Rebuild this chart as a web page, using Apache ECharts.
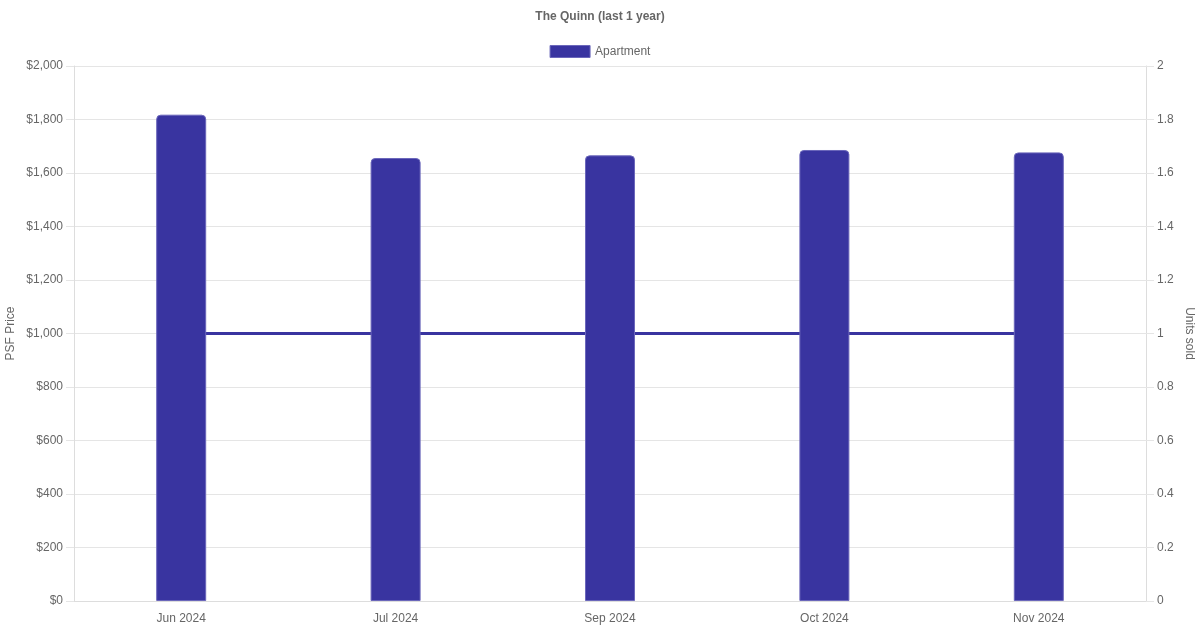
<!DOCTYPE html>
<html><head><meta charset="utf-8">
<script src="https://cdn.jsdelivr.net/npm/echarts@6/dist/echarts.min.js"></script>
<style>html,body{margin:0;padding:0;background:#fff}#c{width:1200px;height:630px}</style>
</head><body><div id="c"></div>
<script>
const categories = ['Jun 2024', 'Jul 2024', 'Sep 2024', 'Oct 2024', 'Nov 2024'];
const psfPrice = [1818, 1656, 1666, 1686, 1677];
const unitsSold = [1, 1, 1, 1, 1];
const leftTicks = { min: 0, max: 2000, interval: 200 };
const rightTicks = { min: 0, max: 2, interval: 0.2 };

const color = '#3934a0';
const font = '"Liberation Sans", Arial, sans-serif';
const chart = echarts.init(document.getElementById('c'));
chart.setOption({
  animation: false,
  textStyle: { fontFamily: font },
  title: { text: 'The Quinn (last 1 year)', left: 'center', top: 6,
    textStyle: { fontSize: 12, fontWeight: 'bold', color: '#666', fontFamily: font } },
  legend: { data: [{ name: 'Apartment', icon: 'rect' }], top: 40, left: 'center', itemWidth: 40, itemHeight: 12, itemGap: 10,
    itemStyle: { borderColor: '#6b67bb', borderWidth: 1 },
    textStyle: { color: '#666', fontSize: 12, fontFamily: font } },
  grid: { left: 74, right: 54, top: 66, bottom: 29, containLabel: false, outerBoundsMode: 'none' },
  xAxis: {
    type: 'category', data: categories,
    axisLine: { lineStyle: { color: '#ddd' } },
    axisTick: { show: false },
    axisLabel: { color: '#666', fontSize: 12, margin: 12 },
    splitLine: { show: false }
  },
  yAxis: [
    { type: 'value', min: leftTicks.min, max: leftTicks.max, interval: leftTicks.interval,
      name: 'PSF Price', nameLocation: 'middle', nameGap: 57, nameMoveOverlap: false,
      nameTextStyle: { color: '#666', fontSize: 12 },
      axisLine: { show: true, lineStyle: { color: '#ddd' } },
      axisTick: { show: true, length: 8, lineStyle: { color: '#e5e5e5' } },
      axisLabel: { color: '#666', fontSize: 12, margin: 11,
        formatter: v => '$' + v.toLocaleString('en-US') },
      splitLine: { lineStyle: { color: '#e5e5e5' } } },
    { type: 'value', min: rightTicks.min, max: rightTicks.max, interval: rightTicks.interval,
      name: 'Units sold', nameLocation: 'middle', nameGap: 37, nameRotate: -90, nameMoveOverlap: false,
      nameTextStyle: { color: '#666', fontSize: 12 },
      axisLine: { show: true, lineStyle: { color: '#ddd' } },
      axisTick: { show: true, length: 8, lineStyle: { color: '#e5e5e5' } },
      axisLabel: { color: '#666', fontSize: 12, margin: 11,
        formatter: v => String(Math.round(v * 10) / 10) },
      splitLine: { show: false } }
  ],
  series: [
    { name: 'Apartment', type: 'bar', yAxisIndex: 0, data: psfPrice, barWidth: 50, z: 3,
      itemStyle: { color: color, borderRadius: [4, 4, 0, 0], borderColor: '#6b67bb', borderWidth: 1 } },
    { name: 'Units', type: 'line', yAxisIndex: 1, data: unitsSold, z: 1,
      symbol: 'none', lineStyle: { color: color, width: 3 }, itemStyle: { color: color } }
  ]
});
</script></body></html>
